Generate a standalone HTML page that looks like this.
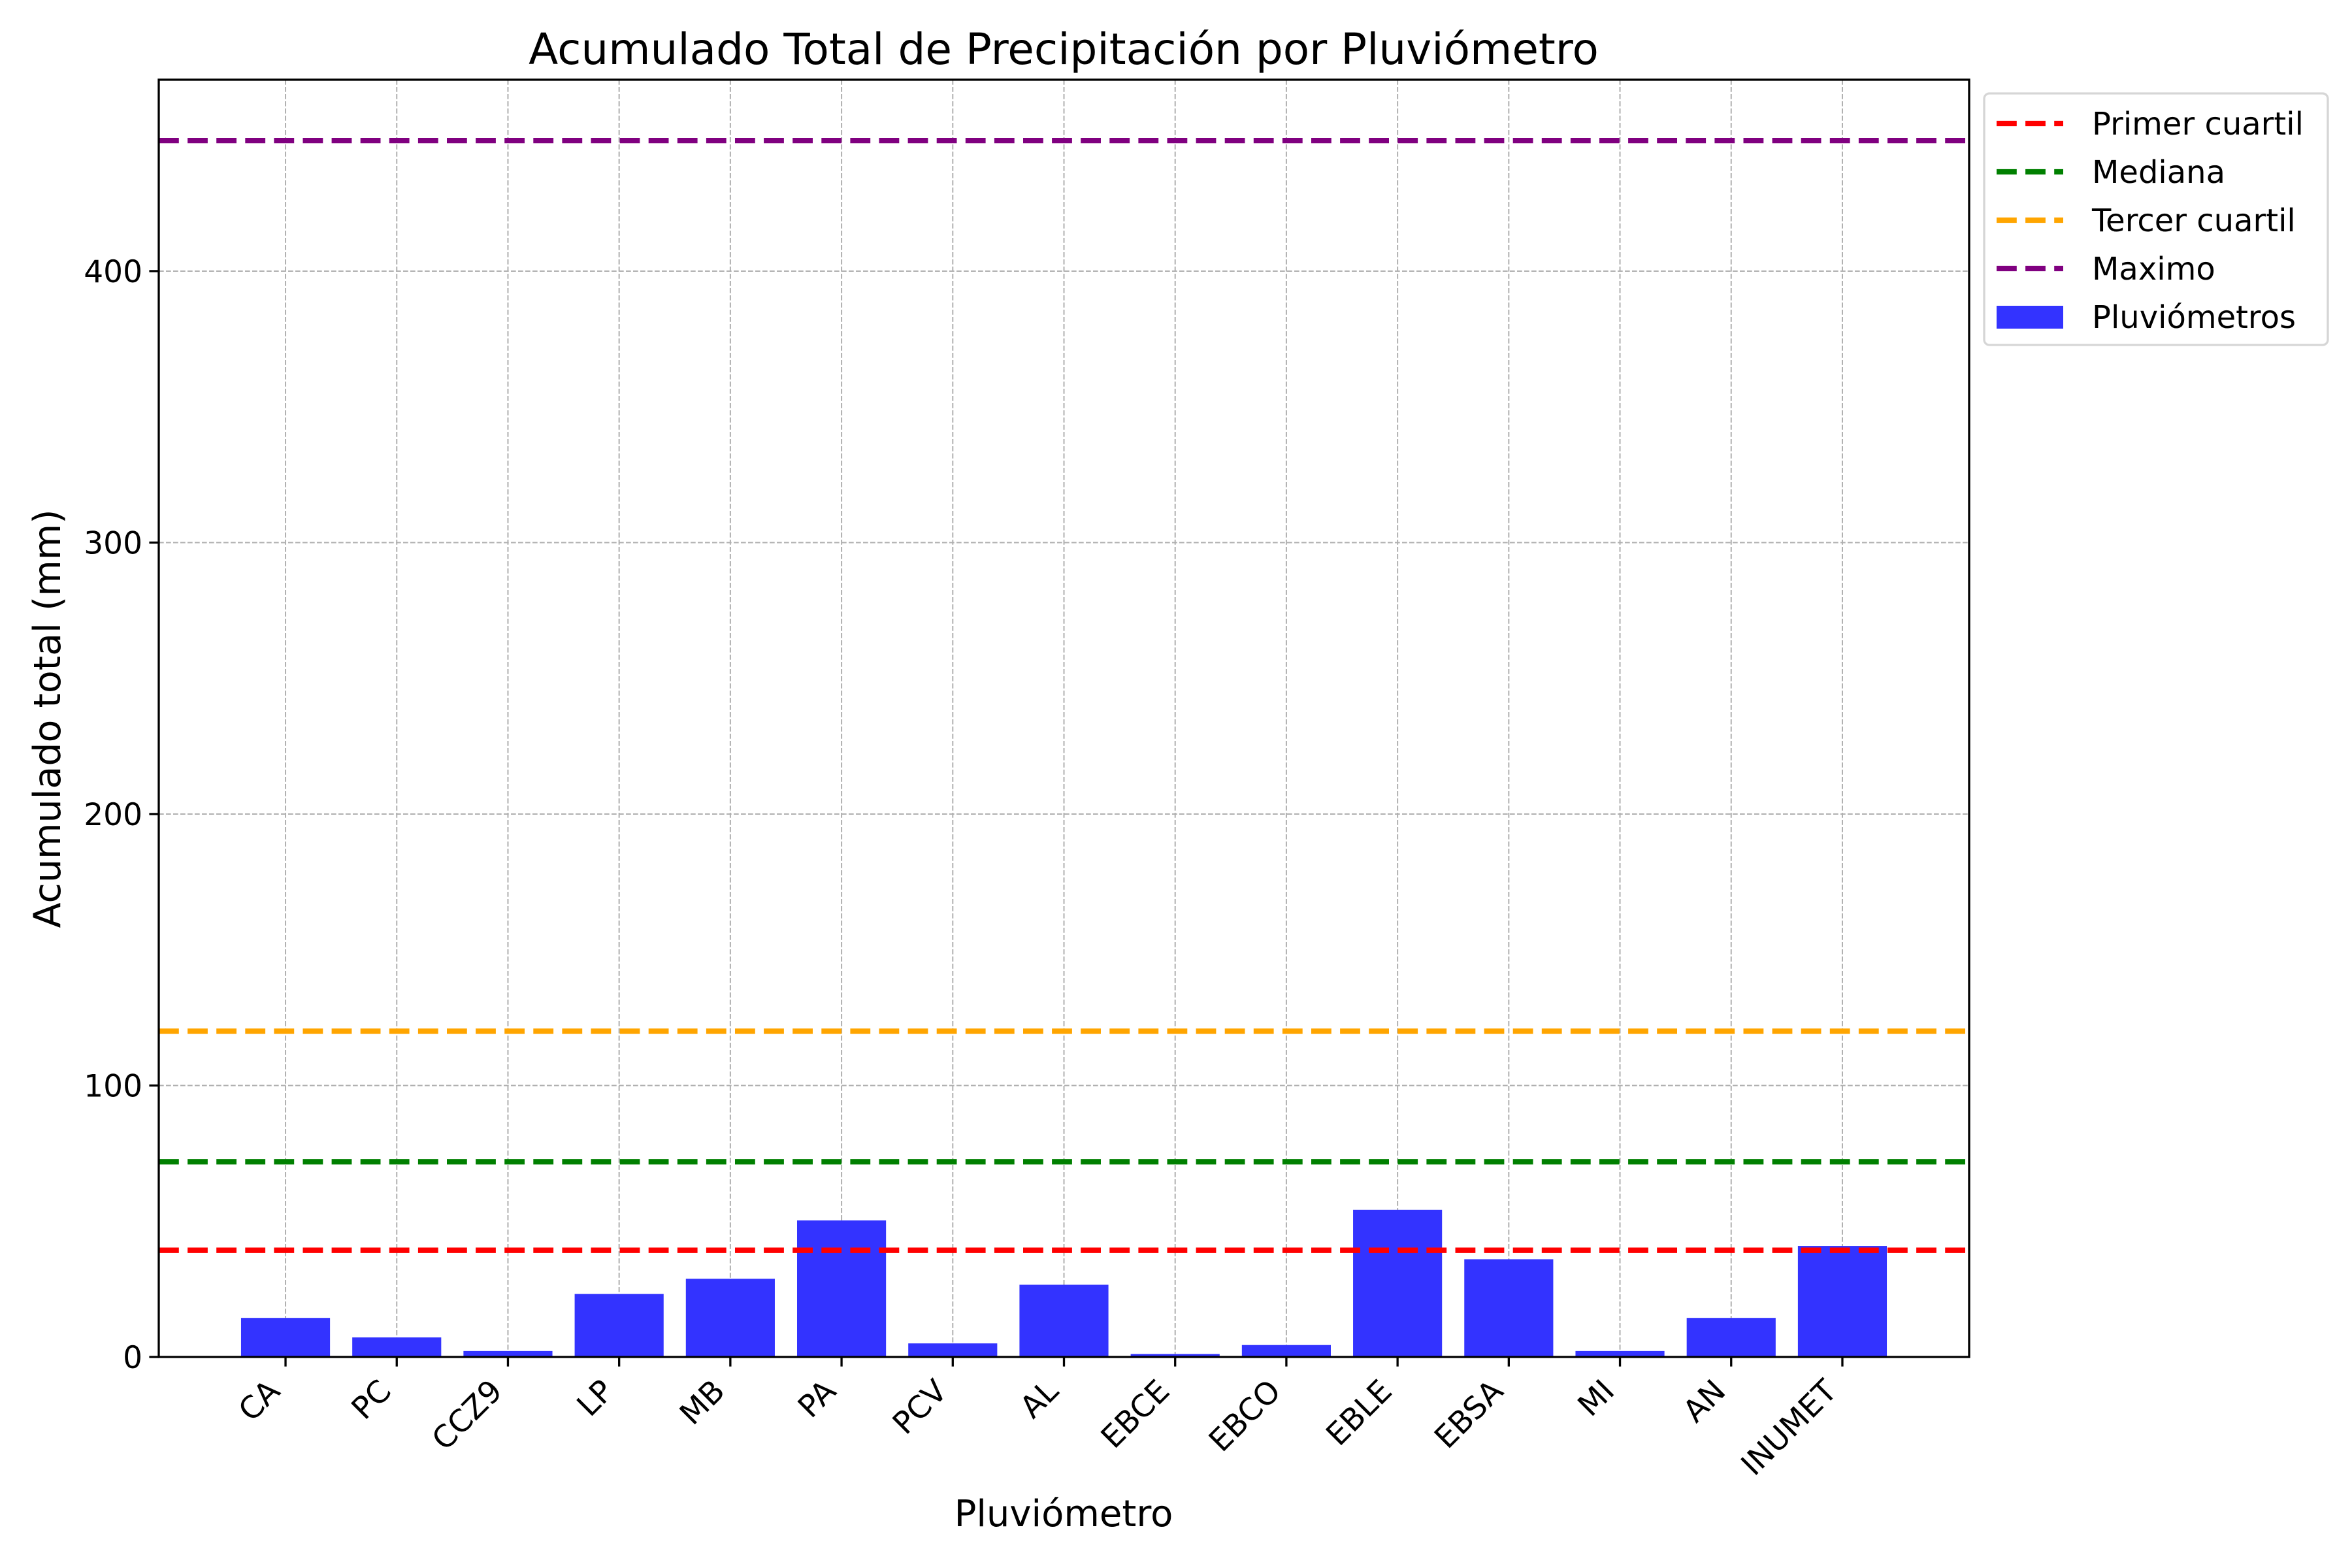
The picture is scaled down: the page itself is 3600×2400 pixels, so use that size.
<!DOCTYPE html>
<html><head><meta charset="utf-8"><style>
html,body{margin:0;padding:0;background:#fff}
svg{display:block}
text{font-family:"DejaVu Sans","Liberation Sans",sans-serif;fill:#000}
</style></head><body>
<svg id="chart" width="3600" height="2400" viewBox="0 0 3600 2400" xmlns="http://www.w3.org/2000/svg">
<rect x="0" y="0" width="3600" height="2400" fill="#fff"/>
<g id="grid"></g>
<g id="bars"></g>
<g id="hlines"></g>
<g id="axes"></g>
<text x="1628" y="98" text-anchor="middle" font-size="66">Acumulado Total de Precipitación por Pluviómetro</text>
<text x="1628" y="2336" text-anchor="middle" font-size="56">Pluviómetro</text>
<text transform="translate(92,1100) rotate(-90)" text-anchor="middle" font-size="57">Acumulado total (mm)</text>
<g id="legend"></g>
</svg>
<script>
const categories = ["CA","PC","CCZ9","LP","MB","PA","PCV","AL","EBCE","EBCO","EBLE","EBSA","MI","AN","INUMET"];
const values = [14.4,7.2,2.2,23.2,28.8,50.3,5.0,26.6,1.1,4.4,54.2,36.0,2.2,14.4,40.9];
const refNames = ["Primer cuartil","Mediana","Tercer cuartil","Maximo"];
const refValues = [39.3,71.9,120.0,448.1];
const refColors = ["#ff0000","#008000","#ffa500","#800080"];
const yTicks = [0,100,200,300,400];

const NS="http://www.w3.org/2000/svg";
const L=243,R=3014,T=122,B=2077;
const xMin=-1.14,xMax=categories.length-1+1.14;
const yMax=Math.max(...refValues,...values)*1.05;
function xs(i){return L+(i-xMin)/(xMax-xMin)*(R-L);}
function ys(v){return B-v/yMax*(B-T);}
function mk(tag,attrs,parent){const e=document.createElementNS(NS,tag);for(const k in attrs)e.setAttribute(k,attrs[k]);parent.appendChild(e);return e;}
const grid=document.getElementById('grid'),bars=document.getElementById('bars'),hl=document.getElementById('hlines'),axes=document.getElementById('axes'),leg=document.getElementById('legend');
const uw=(R-L)/(xMax-xMin);

yTicks.forEach(t=>{
  const y=ys(t);
  const g=mk('line',{x1:L,x2:R,y1:y,y2:y,stroke:'#b0b0b0','stroke-width':2,'stroke-dasharray':'7.7 3.3'},grid);
  
  
  const tk=mk('line',{x1:L-14.6,x2:L,y1:y,y2:y,stroke:'#000','stroke-width':3.3},axes);
  
  
  const tx=mk('text',{x:L-25,y:y+17,'text-anchor':'end','font-size':47},axes);
  tx.textContent=t;
  
  
});
categories.forEach((c,i)=>{
  const x=xs(i);
  const g=mk('line',{x1:x,x2:x,y1:T,y2:B,stroke:'#b0b0b0','stroke-width':2,'stroke-dasharray':'7.7 3.3'},grid);
  
  
  const h=B-ys(values[i]);
  const b=mk('rect',{x:x-0.4*uw,y:ys(values[i]),width:0.8*uw,height:h,fill:'#3333ff'},bars);
  
  
  const tk=mk('line',{x1:x,x2:x,y1:B,y2:B+14.6,stroke:'#000','stroke-width':3.3},axes);
  
  
  const tx=mk('text',{transform:`translate(${x-6},${B+55}) rotate(-45)`,'text-anchor':'end','font-size':47},axes);
  tx.textContent=c;
  
  
});
refValues.forEach((v,i)=>{
  const y=ys(v);
  const l=mk('line',{x1:L,x2:R,y1:y,y2:y,stroke:refColors[i],'stroke-width':8.3,'stroke-dasharray':'30.8 13.3'},hl);
  
  
});
const frame=mk('rect',{x:L,y:T,width:R-L,height:B-T,fill:'none',stroke:'#000','stroke-width':3.3},axes);



// legend
const box=mk('rect',{x:3037,y:143,width:526,height:385,rx:8,fill:'#fff',stroke:'#d6d6d6','stroke-width':3.3},leg);


const rows=[189,263,337,411,485];
refNames.forEach((n,i)=>{
  const y=rows[i];
  const l=mk('line',{x1:3056,x2:3158,y1:y,y2:y,stroke:refColors[i],'stroke-width':8.3,'stroke-dasharray':'30.8 13.3'},leg);
  
  
  const t=mk('text',{x:3202,y:y+17,'font-size':48},leg);
  t.textContent=n;
  
  
});
const sw=mk('rect',{x:3056,y:rows[4]-17,width:102,height:35,fill:'#3333ff'},leg);


const t5=mk('text',{x:3202,y:rows[4]+17,'font-size':48},leg);
t5.textContent='Pluviómetros';


</script>
</body></html>
